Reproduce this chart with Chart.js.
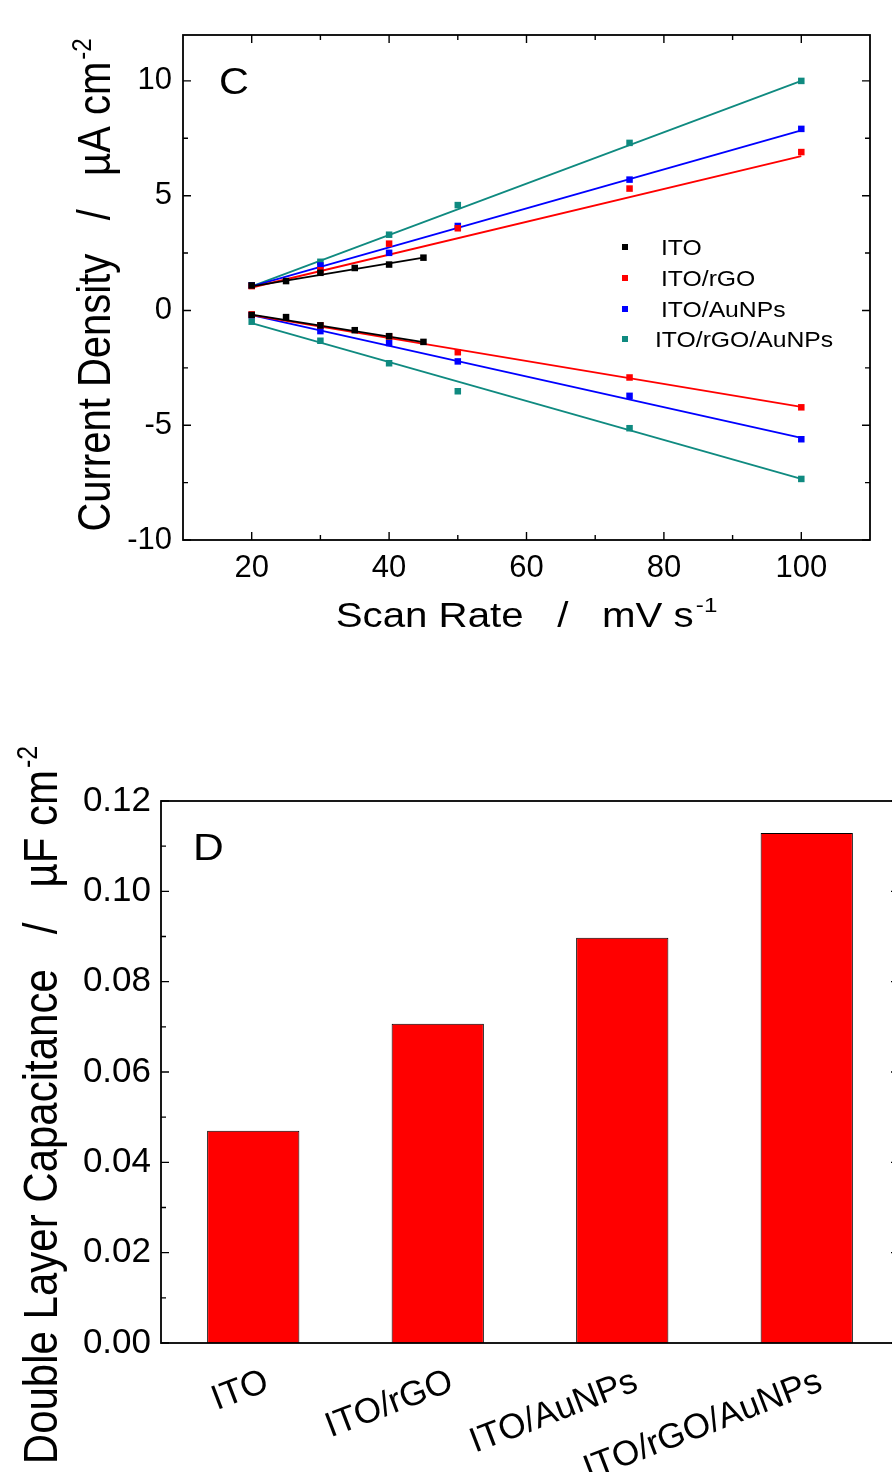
<!DOCTYPE html>
<html>
<head>
<meta charset="utf-8">
<script src="https://cdn.jsdelivr.net/npm/chart.js@4.4.0/dist/chart.umd.min.js"></script>
<style>
html, body { margin: 0; padding: 0; background: #fff; overflow: hidden; width: 892px; height: 1472px; }
#topBox { position: absolute; left: 0; top: 0; width: 892px; height: 660px; }
#bottomBox { position: absolute; left: 0; top: 700px; width: 920px; height: 772px; }
</style>
</head>
<body>
<div id="topBox"><canvas id="rateChart"></canvas></div>
<div id="bottomBox"><canvas id="capChart"></canvas></div>
<script>
const FONT = '"Liberation Sans", Arial, sans-serif';
const SX = 1.15; // the figure text looks a bit wide

// panel C: current density vs scan rate
const scanRatesIto = [20, 25, 30, 35, 40, 45];
const scanRates = [20, 30, 40, 50, 75, 100];
const seriesNames = ['ITO', 'ITO/rGO', 'ITO/AuNPs', 'ITO/rGO/AuNPs'];
const seriesColors = ['#000000', '#ff0000', '#0000ff', '#0f8a80'];

const itoAnodic = [1.09, 1.28, 1.64, 1.85, 2.0, 2.30];
const itoCathodic = [-0.2, -0.29, -0.65, -0.86, -1.12, -1.37];
const rgoAnodic = [1.06, 1.75, 2.91, 3.58, 5.31, 6.9];
const rgoCathodic = [-0.17, -0.65, -1.13, -1.82, -2.92, -4.22];
const aunpAnodic = [1.09, 1.96, 2.51, 3.68, 5.70, 7.91];
const aunpCathodic = [-0.2, -0.9, -1.42, -2.22, -3.72, -5.61];
const bothAnodic = [1.09, 2.12, 3.3, 4.59, 7.3, 10.0];
const bothCathodic = [-0.49, -1.32, -2.3, -3.52, -5.13, -7.34];

// linear fit lines, start and end
const itoFitX = [20, 45];
const fitX = [20, 100];
const itoFitAnodic = [1.05, 2.3];
const itoFitCathodic = [-0.18, -1.38];
const rgoFitAnodic = [1.0, 6.72];
const rgoFitCathodic = [-0.2, -4.2];
const aunpFitAnodic = [1.05, 7.85];
const aunpFitCathodic = [-0.2, -5.55];
const bothFitAnodic = [1.05, 10.0];
const bothFitCathodic = [-0.55, -7.34];

const rateTicks = [20, 40, 60, 80, 100];
const rateMinor = [30, 50, 70, 90];
const densityTicks = [-10, -5, 0, 5, 10];
const densityMinor = [-7.5, -2.5, 2.5, 7.5];

// panel D: double layer capacitance
const electrodes = ['ITO', 'ITO/rGO', 'ITO/AuNPs', 'ITO/rGO/AuNPs'];
const capacitance = [0.047, 0.0707, 0.0897, 0.1129];
const capTicks = [0, 0.02, 0.04, 0.06, 0.08, 0.10, 0.12];
const capMinor = [0.01, 0.03, 0.05, 0.07, 0.09, 0.11];

function pairs(xs, ys) {
    return xs.map((x, i) => ({ x: x, y: ys[i] }));
}

function tickMarks(ctx, scale, values, len, a, sides) {
    ctx.beginPath();
    values.forEach(v => {
        const p = scale.getPixelForValue(v);
        if (scale.isHorizontal()) {
            if (sides.includes('bottom')) { ctx.moveTo(p, a.bottom); ctx.lineTo(p, a.bottom - len); }
            if (sides.includes('top')) { ctx.moveTo(p, a.top); ctx.lineTo(p, a.top + len); }
        } else {
            if (sides.includes('left')) { ctx.moveTo(a.left, p); ctx.lineTo(a.left + len, p); }
            if (sides.includes('right')) { ctx.moveTo(a.right, p); ctx.lineTo(a.right - len, p); }
        }
    });
    ctx.stroke();
}

// title with a superscript, centred on (cx, cy) along its baseline
function drawTitle(ctx, cx, cy, vertical, main, sup, size) {
    ctx.save();
    ctx.font = size + 'px ' + FONT;
    const wMain = ctx.measureText(main).width;
    const supSize = Math.round(size * 0.6);
    ctx.font = supSize + 'px ' + FONT;
    const wSup = ctx.measureText(sup).width;
    const total = wMain + 2 + wSup;
    ctx.translate(cx, cy);
    ctx.scale(SX, 1);
    if (vertical) ctx.rotate(-Math.PI / 2);
    ctx.fillStyle = '#000';
    ctx.textAlign = 'left';
    ctx.textBaseline = 'alphabetic';
    ctx.font = size + 'px ' + FONT;
    ctx.fillText(main, -total / 2, 0);
    ctx.font = supSize + 'px ' + FONT;
    ctx.fillText(sup, -total / 2 + wMain + 2, -size * 0.42);
    ctx.restore();
}

function drawText(ctx, x, y, text, size) {
    ctx.save();
    ctx.translate(x, y);
    ctx.scale(SX, 1);
    ctx.fillStyle = '#000';
    ctx.font = size + 'px ' + FONT;
    ctx.textAlign = 'left';
    ctx.textBaseline = 'alphabetic';
    ctx.fillText(text, 0, 0);
    ctx.restore();
}

const rateFrame = {
    id: 'rateFrame',
    afterDraw(chart) {
        const ctx = chart.ctx;
        const a = chart.chartArea;
        const x = chart.scales.x;
        const y = chart.scales.y;
        ctx.save();
        ctx.strokeStyle = '#000';
        ctx.lineWidth = 1.8;
        ctx.strokeRect(a.left, a.top, a.right - a.left, a.bottom - a.top);
        ctx.lineWidth = 1.4;
        tickMarks(ctx, x, rateTicks, 8, a, ['bottom', 'top']);
        tickMarks(ctx, x, rateMinor, 5, a, ['bottom', 'top']);
        tickMarks(ctx, y, densityTicks, 8, a, ['left', 'right']);
        tickMarks(ctx, y, densityMinor, 5, a, ['left', 'right']);
        ctx.restore();

        drawText(ctx, 219, 94, 'C', 36);
        drawTitle(ctx, (a.left + a.right) / 2, 627, false, 'Scan Rate   /   mV s', '-1', 35);
        drawTitle(ctx, 110, 285, true, 'Current Density   /   \u00b5A cm', '-2', 40);

        // legend
        const legendY = [247, 278, 309, 339];
        const legendX = [661, 661, 661, 655];
        seriesNames.forEach((name, i) => {
            ctx.fillStyle = seriesColors[i];
            ctx.fillRect(622, legendY[i] - 3, 6, 6);
            drawText(ctx, legendX[i], legendY[i] + 8, name, 21.5);
        });
    }
};

const capFrame = {
    id: 'capFrame',
    afterDraw(chart) {
        const ctx = chart.ctx;
        const a = chart.chartArea;
        const y = chart.scales.y;
        ctx.save();
        ctx.strokeStyle = '#000';
        ctx.lineWidth = 1.8;
        ctx.strokeRect(a.left, a.top, a.right - a.left, a.bottom - a.top);
        ctx.lineWidth = 1.4;
        tickMarks(ctx, y, capTicks, 8, a, ['left', 'right']);
        tickMarks(ctx, y, capMinor, 5, a, ['left', 'right']);
        ctx.restore();

        drawText(ctx, 193, 160, 'D', 37);
        drawTitle(ctx, 57, 405, true, 'Double Layer Capacitance   /   \u00b5F cm', '-2', 42);
    }
};

const rateDatasets = [];
const seriesX = [scanRatesIto, scanRates, scanRates, scanRates];
const seriesFitX = [itoFitX, fitX, fitX, fitX];
const anodic = [itoAnodic, rgoAnodic, aunpAnodic, bothAnodic];
const cathodic = [itoCathodic, rgoCathodic, aunpCathodic, bothCathodic];
const fitAnodic = [itoFitAnodic, rgoFitAnodic, aunpFitAnodic, bothFitAnodic];
const fitCathodic = [itoFitCathodic, rgoFitCathodic, aunpFitCathodic, bothFitCathodic];

seriesNames.forEach((name, i) => {
    rateDatasets.push({
        label: name,
        data: pairs(seriesX[i], anodic[i]).concat(pairs(seriesX[i], cathodic[i])),
        showLine: false,
        pointStyle: 'rect',
        pointRadius: 4.6,
        pointBorderWidth: 0,
        backgroundColor: seriesColors[i],
        borderColor: seriesColors[i],
        order: 0
    });
});
seriesNames.forEach((name, i) => {
    [fitAnodic[i], fitCathodic[i]].forEach(fit => {
        rateDatasets.push({
            label: name + ' fit',
            data: pairs(seriesFitX[i], fit),
            showLine: true,
            pointRadius: 0,
            borderWidth: 1.8,
            borderColor: seriesColors[i],
            order: 1
        });
    });
});

new Chart(document.getElementById('rateChart'), {
    type: 'scatter',
    data: { datasets: rateDatasets },
    options: {
        responsive: true,
        maintainAspectRatio: false,
        animation: false,
        layout: { padding: { left: 0, right: 22, top: 35, bottom: 20 } },
        plugins: { legend: { display: false }, tooltip: { enabled: false } },
        scales: {
            x: {
                type: 'linear',
                min: 10,
                max: 110,
                afterBuildTicks: s => { s.ticks = rateTicks.map(v => ({ value: v })); },
                afterFit: s => { s.height = 100; },
                grid: { display: false, drawTicks: false },
                border: { display: false },
                ticks: { color: '#000', font: { family: FONT, size: 31 }, padding: 10, callback: v => String(v) }
            },
            y: {
                type: 'linear',
                min: -10,
                max: 12,
                afterBuildTicks: s => { s.ticks = densityTicks.map(v => ({ value: v })); },
                afterFit: s => { s.width = 183; },
                grid: { display: false, drawTicks: false },
                border: { display: false },
                ticks: { color: '#000', font: { family: FONT, size: 31 }, padding: 11, callback: v => String(v) }
            }
        }
    },
    plugins: [rateFrame]
});

new Chart(document.getElementById('capChart'), {
    type: 'bar',
    data: {
        labels: electrodes,
        datasets: [{
            label: 'Double Layer Capacitance',
            data: capacitance,
            backgroundColor: '#ff0000',
            borderColor: '#000',
            borderWidth: 1,
            barPercentage: 0.5,
            categoryPercentage: 1.0
        }]
    },
    options: {
        responsive: true,
        maintainAspectRatio: false,
        animation: false,
        layout: { padding: { left: 0, right: 21, top: 101, bottom: 0 } },
        plugins: { legend: { display: false }, tooltip: { enabled: false } },
        scales: {
            x: {
                afterFit: s => { s.height = 129; },
                grid: { display: false, drawTicks: false },
                border: { display: false },
                ticks: { color: '#000', font: { family: FONT, size: 35 }, padding: 18, labelOffset: 14, minRotation: 21, maxRotation: 21, autoSkip: false }
            },
            y: {
                min: 0,
                max: 0.12,
                afterBuildTicks: s => { s.ticks = capTicks.map(v => ({ value: v })); },
                afterFit: s => { s.width = 161; },
                grid: { display: false, drawTicks: false },
                border: { display: false },
                ticks: { color: '#000', font: { family: FONT, size: 35 }, padding: 10, callback: v => v.toFixed(2) }
            }
        }
    },
    plugins: [capFrame]
});
</script>
</body>
</html>
